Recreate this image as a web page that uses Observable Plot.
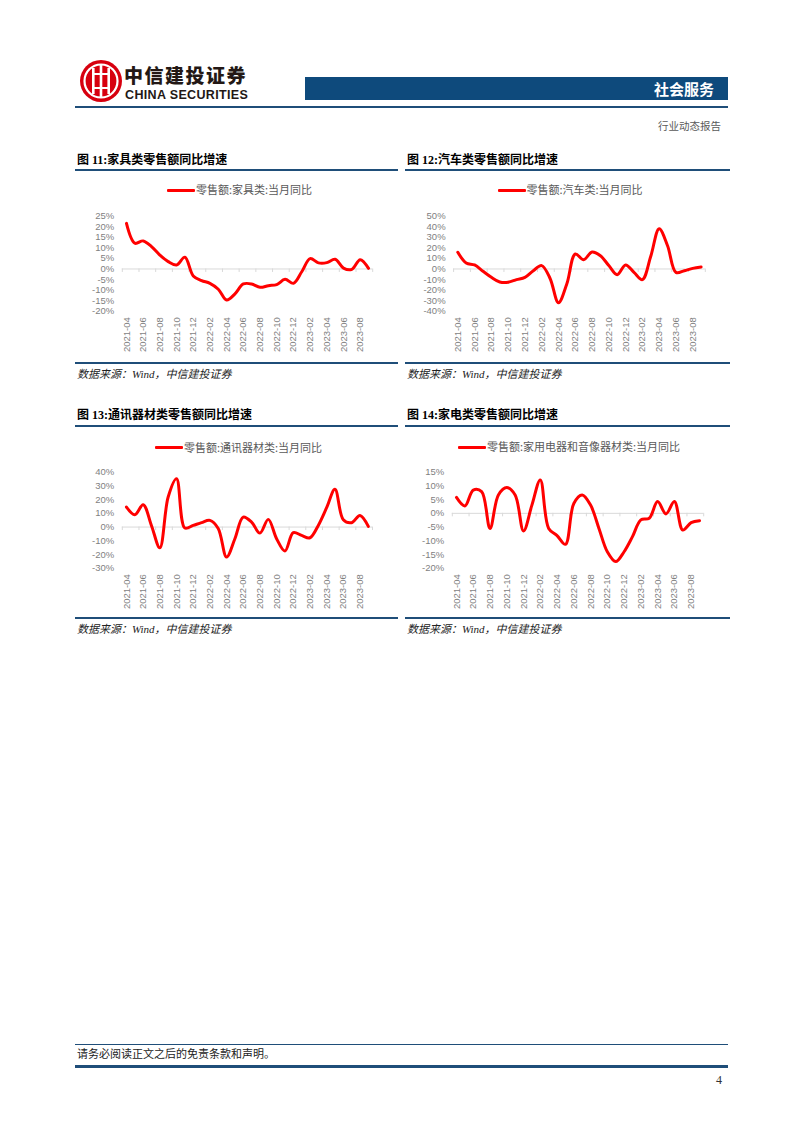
<!DOCTYPE html>
<html>
<head>
<meta charset="utf-8">
<script src="https://cdn.jsdelivr.net/npm/d3@7"></script>
<script src="https://cdn.jsdelivr.net/npm/@observablehq/plot@0.6"></script>
<style>
  html, body { margin: 0; padding: 0; background: #fff; }
  #page { position: relative; width: 802px; height: 1133px; overflow: hidden; background: #fff;
          font-family: "Liberation Sans", "Noto Sans CJK SC", sans-serif; }
  .abs { position: absolute; white-space: nowrap; }
  .title { font-family: "Liberation Serif", "Noto Sans CJK SC", serif; font-weight: bold; font-size: 12px; color: #000; line-height: 14px; }
  .rule { position: absolute; background: #1f4e79; }
  .src { font-family: "Liberation Serif", "Noto Sans CJK SC", serif; font-style: italic; font-size: 11px; color: #222; line-height: 13px; }
  .legend { font-family: "Noto Sans CJK SC", sans-serif; font-size: 11px; color: #595959; line-height: 13px; }
  .lg-line { position: absolute; height: 3px; background: #ff0000; border-radius: 1px; }
</style>
</head>
<body>
<div id="page"></div>
<script>
// ---------------- data ----------------
const months = ["2021-04","2021-05","2021-06","2021-07","2021-08","2021-09","2021-10","2021-11","2021-12",
  "2022-01","2022-02","2022-03","2022-04","2022-05","2022-06","2022-07","2022-08","2022-09","2022-10","2022-11","2022-12",
  "2023-01","2023-02","2023-03","2023-04","2023-05","2023-06","2023-07","2023-08","2023-09"];
const tickMonths = ["2021-04","2021-06","2021-08","2021-10","2021-12","2022-02","2022-04","2022-06","2022-08",
  "2022-10","2022-12","2023-02","2023-04","2023-06","2023-08"];

const furniture = [21.6, 12.2, 13.3, 10.6, 6.6, 3.5, 1.9, 5.6, -3.3, -5.5, -6.8, -9.6, -14.7, -11.8, -7.1, -7.1,
  -8.7, -7.9, -7.4, -4.9, -6.8, -1.3, 4.9, 2.9, 3.0, 4.6, 0.4, -0.2, 4.4, 0.3];
const autos = [15.8, 5.7, 3.8, -2.2, -7.9, -12.3, -12.6, -10.1, -7.9, -1.6, 3.2, -9.0, -32.0, -14.0, 14.2, 8.8,
  16.1, 12.6, 3.2, -5.4, 3.8, -3.2, -10.1, 12.0, 38.2, 22.0, -3.2, -1.6, 0.6, 1.9];
const telecom = [14.6, 9.0, 16.3, 1.0, -15.1, 21.9, 35.2, -0.7, 1.2, 3.2, 4.9, -1.0, -21.9, -8.5, 7.3, 3.6,
  -4.4, 5.6, -8.5, -17.5, -4.1, -6.1, -7.8, 1.2, 14.1, 27.5, 5.3, 3.2, 8.5, 0.5];
const appliances = [5.8, 2.7, 8.5, 7.9, -5.5, 6.7, 9.4, 6.7, -6.4, 3.0, 12.2, -5.5, -8.1, -11.3, 3.6, 6.7,
  3.0, -5.5, -14.0, -17.6, -14.0, -8.5, -2.4, -1.8, 4.3, -0.2, 4.3, -6.1, -3.4, -2.7];

const yTicks1 = [-20, -15, -10, -5, 0, 5, 10, 15, 20, 25];
const yTicks2 = [-40, -30, -20, -10, 0, 10, 20, 30, 40, 50];
const yTicks3 = [-30, -20, -10, 0, 10, 20, 30, 40];
const yTicks4 = [-20, -15, -10, -5, 0, 5, 10, 15];

const titles = ["图 11:家具类零售额同比增速", "图 12:汽车类零售额同比增速", "图 13:通讯器材类零售额同比增速", "图 14:家电类零售额同比增速"];
const legends = ["零售额:家具类:当月同比", "零售额:汽车类:当月同比", "零售额:通讯器材类:当月同比", "零售额:家用电器和音像器材类:当月同比"];
const sourceText = "数据来源：Wind，中信建投证券";

// ---------------- page chrome ----------------
const page = document.getElementById("page");
function add(html) { page.insertAdjacentHTML("beforeend", html); }

// logo
add(`<svg class="abs" style="left:79px;top:59px" width="44" height="44" viewBox="0 0 44 44">
  <circle cx="22" cy="22" r="21" fill="#d7000f"/>
  <circle cx="22" cy="22" r="16.5" fill="none" stroke="#fff" stroke-width="2.2"/>
  <rect x="13" y="9" width="2.6" height="26" fill="#fff"/>
  <rect x="28.4" y="9" width="2.6" height="26" fill="#fff"/>
  <rect x="20.7" y="6" width="2.6" height="32" fill="#fff"/>
  <path d="M13 15 H31 M13 29 H31" stroke="#fff" stroke-width="2.2"/>
</svg>`);
add(`<div class="abs" style="left:124px;top:64.5px;font-family:'Noto Sans CJK SC',sans-serif;font-weight:900;font-size:19px;line-height:19px;letter-spacing:1.5px;color:#231815">中信建投证券</div>`);
add(`<div class="abs" style="left:125px;top:89.25px;font-family:'Liberation Sans',Arial,sans-serif;font-weight:bold;font-size:12.5px;line-height:12.5px;letter-spacing:0.35px;color:#231815">CHINA SECURITIES</div>`);
add(`<div class="abs" style="left:305px;top:77px;width:423px;height:23px;background:#0e4a7c"></div>`);
add(`<div class="abs" style="left:648px;top:79px;width:66px;text-align:right;font-family:'Noto Sans CJK SC',sans-serif;font-weight:bold;font-size:15px;line-height:20px;color:#fff">社会服务</div>`);
add(`<div class="rule" style="left:75px;top:106px;width:653px;height:1.5px"></div>`);
add(`<div class="abs" style="left:600px;top:119px;width:121px;text-align:right;font-family:'Noto Sans CJK SC',serif;font-size:10.5px;line-height:13px;color:#595959">行业动态报告</div>`);

// footer
add(`<div class="rule" style="left:75px;top:1044px;width:653px;height:1px"></div>`);
add(`<div class="abs" style="left:77px;top:1046px;font-family:'Noto Sans CJK SC',serif;font-size:11px;line-height:14px;color:#222">请务必阅读正文之后的免责条款和声明。</div>`);
add(`<div class="rule" style="left:75px;top:1065px;width:653px;height:3px"></div>`);
add(`<div class="abs" style="left:700px;top:1073px;width:22px;text-align:right;font-family:'Liberation Serif',serif;font-size:12px;line-height:14px;color:#333">4</div>`);

// ---------------- charts ----------------
const panels = [
  {vals: furniture,  ticks: yTicks1, left: 75,  top: 200, width: 323, ml: 46.8, mr: 25.8, mt: 15.7, h: 160, ph: 95,
   titleY: 153, lineY: 169, legX: 167, legY: 190, srcLineY: 362, srcY: 368},
  {vals: autos,      ticks: yTicks2, left: 405, top: 200, width: 325, ml: 48.1, mr: 25.2, mt: 15.7, h: 160, ph: 95,
   titleY: 153, lineY: 169, legX: 497.5, legY: 190, srcLineY: 362, srcY: 368},
  {vals: telecom,    ticks: yTicks3, left: 75,  top: 455, width: 323, ml: 46.8, mr: 26.0, mt: 16.7, h: 160, ph: 96,
   titleY: 408, lineY: 425, legX: 155, legY: 447.5, srcLineY: 617, srcY: 623},
  {vals: appliances, ticks: yTicks4, left: 405, top: 455, width: 325, ml: 46.8, mr: 26.8, mt: 16.7, h: 160, ph: 96,
   titleY: 408, lineY: 425, legX: 458, legY: 447, srcLineY: 617, srcY: 623}
];

panels.forEach((p, k) => {
  // title and rules
  add(`<div class="abs title" style="left:77px;top:${p.titleY}px;margin-left:${p.left - 75}px">${titles[k]}</div>`);
  add(`<div class="rule" style="left:${p.left}px;top:${p.lineY}px;width:${p.width}px;height:1.5px"></div>`);
  add(`<div class="rule" style="left:${p.left}px;top:${p.srcLineY}px;width:${p.width}px;height:1.5px"></div>`);
  add(`<div class="abs src" style="left:${p.left + 2}px;top:${p.srcY}px">${sourceText}</div>`);
  // legend
  add(`<div class="lg-line" style="left:${p.legX}px;top:${p.legY - 1.5}px;width:28px"></div>`);
  add(`<div class="abs legend" style="left:${p.legX + 29}px;top:${p.legY - 7}px">${legends[k]}</div>`);

  const data = p.vals.map((v, i) => ({i, month: months[i], v}));
  const ymin = p.ticks[0], ymax = p.ticks[p.ticks.length - 1];
  const tickLen = (ymax - ymin) * 3.5 / p.ph;
  const bounds = d3.range(-0.5, months.length, 2);
  const xTickIdx = tickMonths.map(m => months.indexOf(m));

  const chart = Plot.plot({
    width: p.width,
    height: p.h,
    marginLeft: p.ml,
    marginRight: p.mr,
    marginTop: p.mt,
    marginBottom: p.h - p.mt - p.ph,
    style: {background: "transparent", color: "#7f7f7f", fontSize: "9.5px",
            fontFamily: "'Liberation Sans', Arial, sans-serif", overflow: "visible"},
    x: {domain: [-0.5, months.length - 0.5], ticks: xTickIdx, tickFormat: i => months[i],
        tickRotate: -90, tickSize: 0, tickPadding: 6, label: null},
    y: {domain: [ymin, ymax], ticks: p.ticks, tickFormat: d => `${d}%`, tickSize: 0, tickPadding: 8, label: null},
    marks: [
      Plot.ruleY([0], {stroke: "#d9d9d9", strokeWidth: 1}),
      Plot.ruleX(bounds, {x: d => d, y1: 0, y2: -tickLen, stroke: "#d9d9d9", strokeWidth: 1}),
      Plot.line(data, {x: "i", y: "v", stroke: "#ff0000", strokeWidth: 3, curve: "catmull-rom",
                       strokeLinejoin: "round", strokeLinecap: "round"})
    ]
  });
  chart.style.position = "absolute";
  chart.style.left = p.left + "px";
  chart.style.top = p.top + "px";
  page.appendChild(chart);
});
</script>
</body>
</html>
